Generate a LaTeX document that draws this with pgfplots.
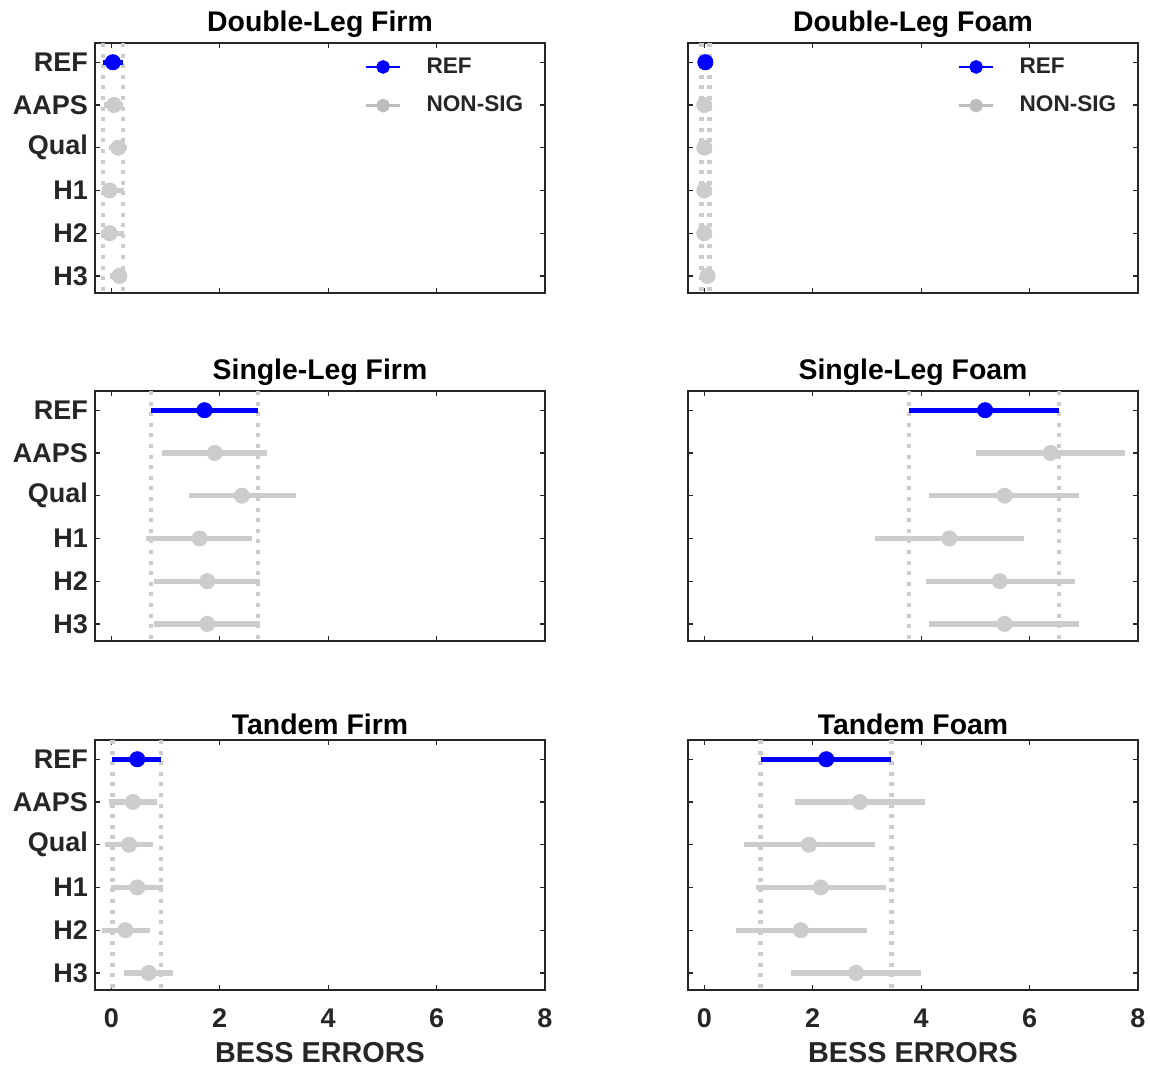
\documentclass[border=0pt]{standalone}
\usepackage{fontspec}
\setmainfont{Liberation Sans}
\usepackage{pgfplots}
\usepackage{pgfplotstable}
\pgfplotsset{compat=1.18}
\definecolor{nonsig}{rgb}{0.8,0.8,0.8}
\definecolor{axc}{rgb}{0.15,0.15,0.15}

\pgfplotstableread{
c m lo hi
1 0.03 -0.15 0.22
2 0.05 -0.13 0.22
3 0.13 -0.05 0.29
4 -0.03 -0.17 0.24
5 -0.03 -0.19 0.24
6 0.15 -0.03 0.29
}\dlfirm
\pgfplotstableread{
c m lo hi
1 0.02 -0.05 0.10
2 0.00 -0.05 0.05
3 0.00 -0.05 0.05
4 0.00 -0.05 0.05
5 0.00 -0.05 0.05
6 0.06 -0.04 0.16
}\dlfoam
\pgfplotstableread{
c m lo hi
1 1.72 0.73 2.71
2 1.91 0.94 2.88
3 2.41 1.43 3.40
4 1.63 0.64 2.60
5 1.77 0.79 2.75
6 1.77 0.79 2.75
}\slfirm
\pgfplotstableread{
c m lo hi
1 5.18 3.78 6.54
2 6.39 5.02 7.76
3 5.54 4.15 6.91
4 4.52 3.15 5.89
5 5.45 4.09 6.83
6 5.54 4.15 6.91
}\slfoam
\pgfplotstableread{
c m lo hi
1 0.48 0.02 0.92
2 0.40 -0.04 0.84
3 0.33 -0.11 0.77
4 0.48 0.00 0.96
5 0.26 -0.18 0.71
6 0.69 0.23 1.14
}\tdfirm
\pgfplotstableread{
c m lo hi
1 2.25 1.04 3.45
2 2.87 1.67 4.08
3 1.93 0.74 3.14
4 2.15 0.95 3.35
5 1.78 0.59 3.00
6 2.80 1.60 4.00
}\tdfoam

\pgfplotsset{
  bess/.style={
    scale only axis, width=225pt, height=125pt,
    xmin=-0.3, xmax=8, ymin=0.55, ymax=6.4, y dir=reverse,
    xtick={0,2,4,6,8}, ytick={1,2,3,4,5,6},
    tick align=inside, major tick length=2.5pt,
    axis line style={axc, line width=0.6pt},
    every tick/.style={axc, line width=0.6pt},
    /pgf/number format/assume math mode=true,
    tick label style={font=\bfseries\fontsize{13.5}{15}\selectfont, text=axc},
    xticklabel style={yshift=-6pt},
    title style={font=\bfseries\fontsize{14.2}{16}\selectfont, text=black, yshift=-7pt},
    xlabel style={font=\bfseries\fontsize{14.4}{16}\selectfont, text=axc},
    clip=true,
    anchor=south west,
  },
  leftcol/.style={yticklabels={REF,AAPS,Qual,H1,H2,H3}},
  rightcol/.style={yticklabels={}},
  notx/.style={xticklabels={}},
  botx/.style={xlabel={BESS ERRORS}},
  withleg/.style={
    legend style={at={(0.585,0.975)}, anchor=north west, draw=none, fill=none,
      font=\bfseries\fontsize{11.3}{13}\selectfont, text=axc, row sep=6pt,
      /tikz/every odd column/.append style={column sep=10.5pt}},
    legend cell align=left,
  },
  dotline/.style={nonsig, line width=2.2pt, dash pattern=on 2pt off 3.3pt},
}

\newcommand{\panelplots}[3]{%
  \addplot[forget plot, only marks, mark=*, mark size=3.8pt, color=nonsig,
    mark options={fill=nonsig, draw=nonsig},
    skip coords between index={0}{1},
    error bars/.cd, x dir=both, x explicit, error mark=none,
    error bar style={line width=2.6pt, nonsig}]
    table[x=m, y=c, x error plus expr=\thisrow{hi}-\thisrow{m}, x error minus expr=\thisrow{m}-\thisrow{lo}] {#1};
  \addplot[forget plot, dotline] coordinates {(#2,0.55) (#2,6.4)};
  \addplot[forget plot, dotline] coordinates {(#3,0.55) (#3,6.4)};
  \addplot[forget plot, only marks, mark=*, mark size=3.8pt, color=blue,
    mark options={fill=blue, draw=blue},
    skip coords between index={1}{6},
    error bars/.cd, x dir=both, x explicit, error mark=none,
    error bar style={line width=2.3pt, blue}]
    table[x=m, y=c, x error plus expr=\thisrow{hi}-\thisrow{m}, x error minus expr=\thisrow{m}-\thisrow{lo}] {#1};
}
\newcommand{\legimgs}{%
  \addlegendimage{blue, line width=1.4pt, mark=*, mark size=2.7pt, mark options={fill=blue}}
  \addlegendentry{REF}
  \addlegendimage{nonsig!80!gray, line width=1.4pt, mark=*, mark size=2.7pt, mark options={fill=nonsig!80!gray}}
  \addlegendentry{NON-SIG}
}

\begin{document}
\begin{tikzpicture}
\useasboundingbox (0,0) rectangle (575pt,533.5pt);
% top row
\begin{axis}[bess, leftcol, notx, withleg, at={(47.5pt,387pt)}, title={Double-Leg Firm}]
  \legimgs
  \panelplots{\dlfirm}{-0.15}{0.22}
\end{axis}
\begin{axis}[bess, rightcol, notx, withleg, at={(344pt,387pt)}, title={Double-Leg Foam}]
  \legimgs
  \panelplots{\dlfoam}{-0.05}{0.10}
\end{axis}
% middle row
\begin{axis}[bess, leftcol, notx, at={(47.5pt,213pt)}, title={Single-Leg Firm}]
  \panelplots{\slfirm}{0.73}{2.71}
\end{axis}
\begin{axis}[bess, rightcol, notx, at={(344pt,213pt)}, title={Single-Leg Foam}]
  \panelplots{\slfoam}{3.78}{6.54}
\end{axis}
% bottom row
\begin{axis}[bess, leftcol, botx, at={(47.5pt,38.5pt)}, title={Tandem Firm}]
  \panelplots{\tdfirm}{0.02}{0.92}
\end{axis}
\begin{axis}[bess, rightcol, botx, at={(344pt,38.5pt)}, title={Tandem Foam}]
  \panelplots{\tdfoam}{1.04}{3.45}
\end{axis}
\end{tikzpicture}
\end{document}
